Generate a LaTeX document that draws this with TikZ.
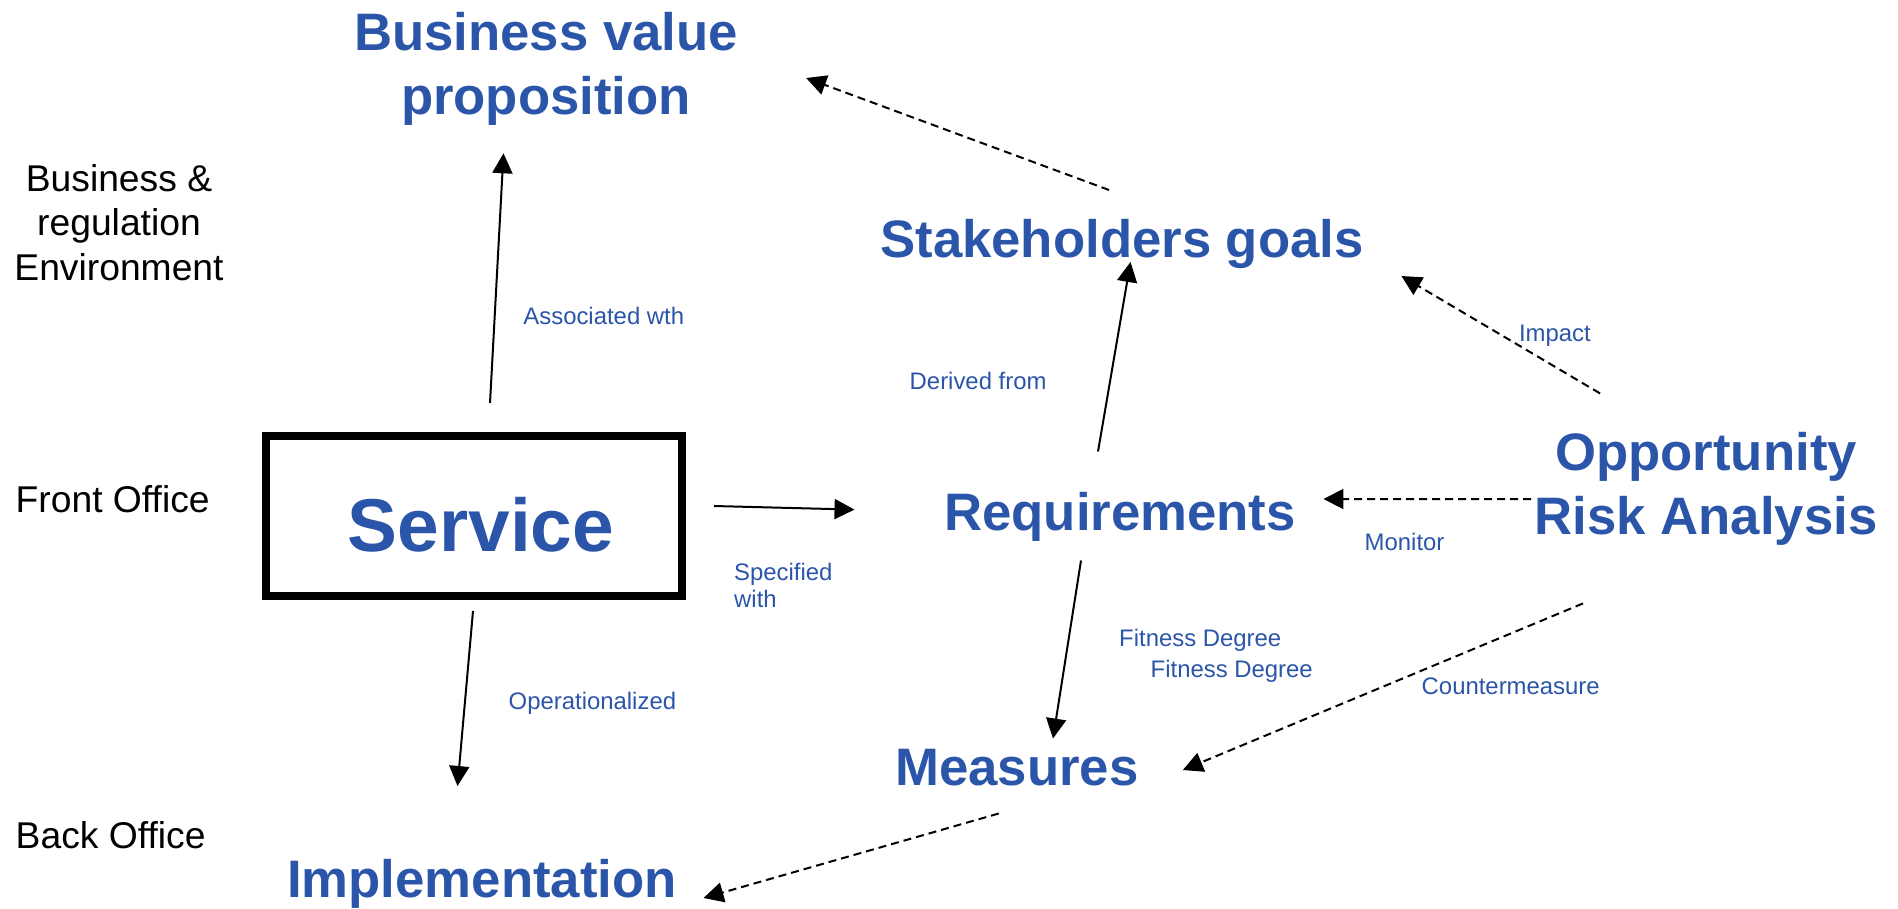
\documentclass[tikz,border=0pt]{standalone}
\usepackage{fontspec}
\setmainfont{Liberation Sans}
\usetikzlibrary{arrows.meta,calc}
\definecolor{svblue}{HTML}{2B55A9}
\definecolor{svink}{HTML}{000000}
\tikzset{
  big/.style={font=\fontsize{15pt}{18.2pt}\selectfont\bfseries, text=svblue, inner sep=0pt},
  svc/.style={draw=svink, line width=0.8mm, minimum width=41.6mm, minimum height=16mm, text height=7.2mm, font=\fontsize{21.3pt}{25pt}\selectfont\bfseries, text=svblue},
  lyr/.style={font=\fontsize{10.6pt}{12.6pt}\selectfont, text=svink, inner sep=0pt},
  rel/.style={font=\fontsize{6.8pt}{7.9pt}\selectfont, text=svblue, inner sep=0pt},
  arr/.style={-{Triangle[length=2mm, width=2mm]}, line width=0.2mm, color=svink},
  darr/.style={arr, dash pattern=on 0.8mm off 0.5mm},
}
\begin{document}
\begin{tikzpicture}[x=0.1mm, y=-0.1mm]
  \useasboundingbox (0,0) rectangle (1898,908);
  % layers on the left
  \node[lyr, align=center] (env) at (119,222.5) {Business \&\\regulation\\Environment};
  \node[lyr, anchor=base west] (front) at (15,512.7) {Front Office};
  \node[lyr, anchor=base west] (back) at (15,848) {Back Office};
  % concepts
  \node[svc] (svc) at (474,515.5) {\hspace{1.4mm}Service};
  \node[big, align=center] (bvp) at (546,69) {Business value\\proposition};
  \node[big, anchor=base] (stk) at (1122,257.3) {Stakeholders goals};
  \node[big, anchor=base] (req) at (1120,530) {Requirements};
  \node[big, anchor=base] (mea) at (1017,785) {Measures};
  \node[big, anchor=base] (imp) at (482,897.3) {Implementation};
  \node[big, align=center] (ora) at (1706,488.4) {Opportunity\\Risk Analysis};
  % relation labels
  \node[rel, anchor=base west] (lassoc) at (522.7,324) {Associated wth};
  \node[rel, anchor=base west] (lder) at (909,389) {Derived from};
  \node[rel, align=left, anchor=north west] (lspec) at (733.5,562) {Specified\\with};
  \node[rel, anchor=base west] (loper) at (508,709.3) {Operationalized};
  \node[rel, anchor=base west] (lfit) at (1118.5,646) {Fitness Degree};
  \node[rel, anchor=base west] (lfitb) at (1150,677) {Fitness Degree};
  \node[rel, anchor=base west] (limp) at (1518.3,341.7) {Impact};
  \node[rel, anchor=base west] (lmon) at (1364,550) {Monitor};
  \node[rel, anchor=base west] (lcm) at (1421,694) {Countermeasure};
  % links
  \draw[arr] ($(svc.north)+(16,-28.5)$) -- ($(bvp.south)+(-42.5,27)$);
  \draw[arr] ($(svc.east)+(28,-9.5)$) -- ($(req.base west)+(-89,-20.4)$);
  \draw[arr] ($(svc.south)+(-1,11.5)$) -- ($(imp.base)+(-24.5,-111.3)$);
  \draw[arr] ($(req.base)+(-22,-78.5)$) -- ($(stk.base)+(8.5,4.7)$);
  \draw[arr] ($(req.base)+(-39,30.5)$) -- ($(mea.base)+(36,-46.5)$);
  \draw[darr] ($(ora)+(-106,-95)$) -- ($(stk.base east)+(37,18.7)$);
  \draw[darr] ($(ora)+(-175,10.6)$) -- ($(req.base east)+(27,-31)$);
  \draw[darr] ($(ora)+(-123,115)$) -- ($(mea.base east)+(43.5,-15)$);
  \draw[darr] ($(stk.base)+(-13,-67.3)$) -- ($(bvp.east)+(67.5,9)$);
  \draw[darr] ($(mea.base)+(-18.3,28.5)$) -- ($(imp.base east)+(26,0.7)$);
\end{tikzpicture}
\end{document}
